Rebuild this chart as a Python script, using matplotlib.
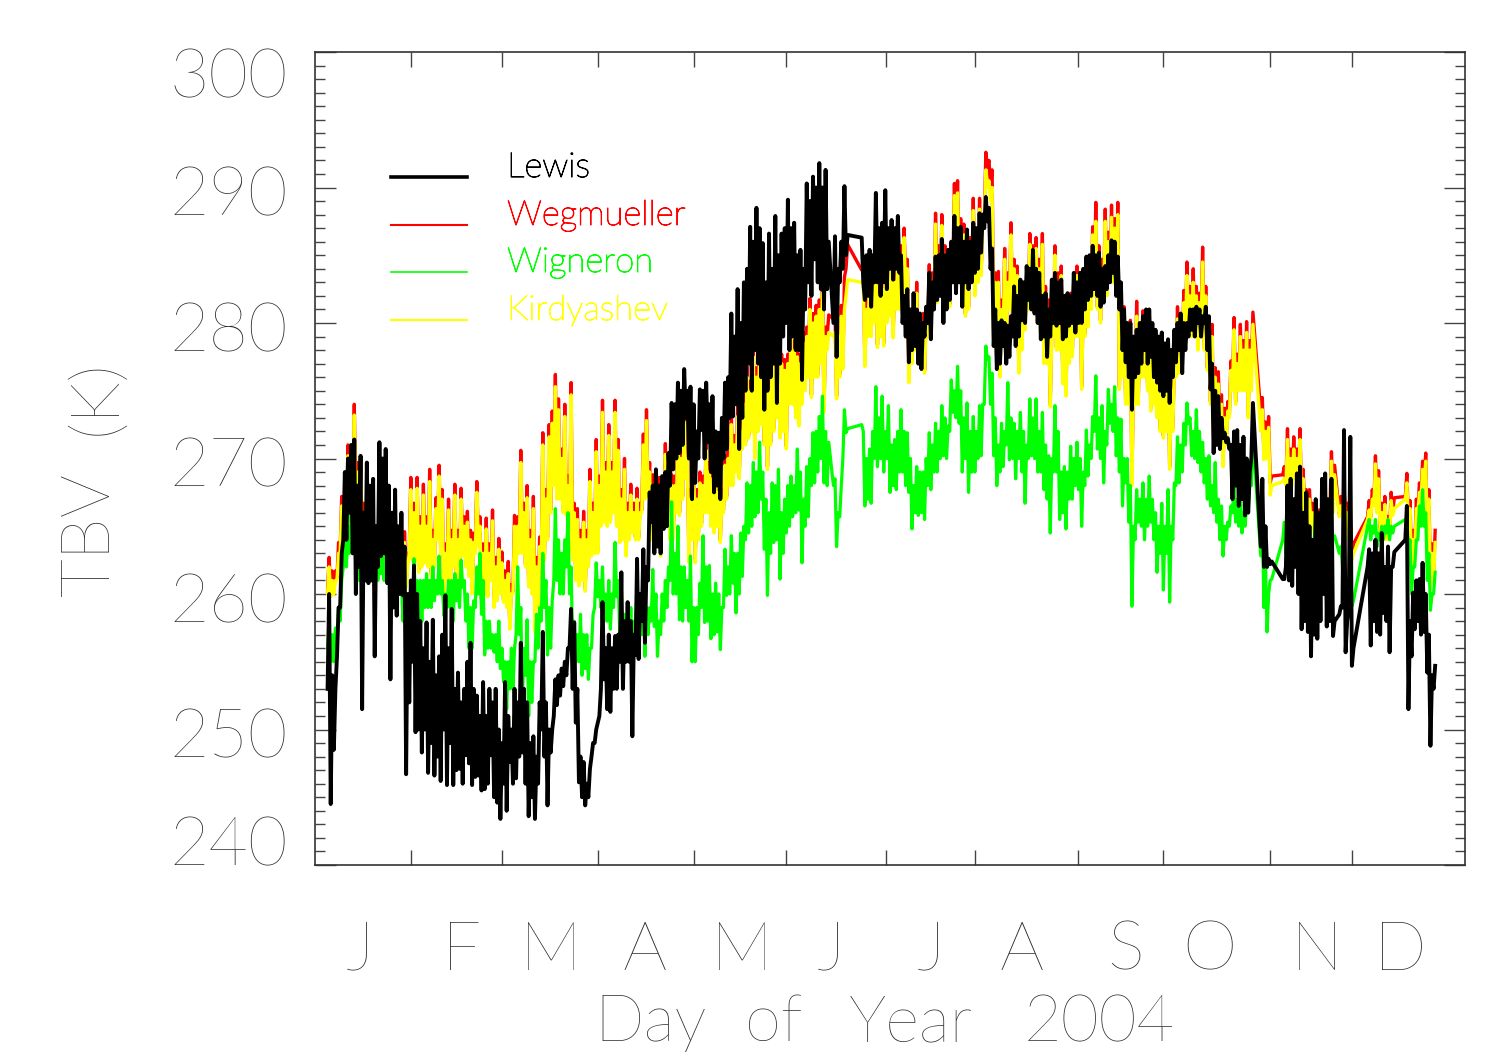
import numpy as np
import matplotlib.pyplot as plt
import matplotlib.patheffects as pe
from matplotlib.ticker import MultipleLocator
from matplotlib.transforms import blended_transform_factory, offset_copy

# day of year of each overpass pair (gaps where no data)
days = np.r_[5:165, 166:171, 175:300, 302:306, 309:326, 327:332, 336:345, 348:358]

# two samples a day: night pass at the day, day pass half a day later
lewis_night = [
    253, 244.5, 248.5, 255.4, 259, 264, 264, 266, 263, 260,
    262, 251.5, 261, 260.8, 261, 255.4, 262, 262.8, 263, 260.8,
    253.7, 259, 258.4, 260, 259.9, 246.7, 252, 255, 249.8, 250,
    248.3, 250, 246.8, 249, 246.6, 248, 246.2, 250, 245.9, 249,
    245.9, 247, 247.1, 246, 248.1, 247.5, 245.9, 246.5, 246.6, 245.5,
    245.6, 246, 248.1, 245, 244.6, 243.4, 246, 244, 247.6, 246,
    246.4, 248, 248.3, 246, 243.6, 245, 243.4, 246, 250, 248,
    244.4, 248.3, 251, 251.8, 252.5, 253.2, 254, 256, 253, 250.5,
    246.1, 245, 244.4, 245, 248, 249, 250.5, 253, 253.7, 251.5,
    251.3, 253, 253, 255, 253, 255, 255, 249.5, 255.5, 255.2,
    258, 256.4, 261, 265.3, 263, 263.5, 263, 264.8, 265, 268,
    269.2, 270, 270.4, 271, 273, 270, 267, 268.2, 270, 272.1,
    270, 271.2, 269, 267.5, 268, 267, 270, 270.7, 273, 273.1,
    274, 270.7, 273, 275, 277, 275, 278, 277, 276, 273.6,
    275, 276, 277, 274.1, 277, 279, 280, 278, 279, 278,
    278, 275.8, 281, 283, 282, 284.7, 283, 282.5, 281, 282.5,
    280, 277.5, 283, 284, 285, 286.3, 281.7, 282, 281.2, 283,
    283, 282, 283, 282.5, 284, 283.2, 284, 283.7, 280, 279,
    277.1, 278, 278.3, 277, 276.6, 279, 280, 278.8, 281, 281.7,
    282, 280, 281, 281.7, 283, 282.2, 283, 281.2, 283, 282.5,
    283, 283.7, 284, 285.2, 287, 287.5, 284, 278.3, 276.6, 277,
    278.3, 277, 277.5, 279, 278.3, 279, 280.2, 280, 281.7, 281,
    280.7, 280, 278.8, 279, 277.5, 279, 280, 279.8, 280, 278.8,
    279, 279.8, 280, 279.3, 280, 280, 281, 281.7, 282, 282.5,
    282, 281.2, 281.5, 282.5, 283, 283.7, 282, 281, 278, 277.1,
    276, 273.6, 276, 276.3, 277, 278, 277, 277.5, 276, 275.6,
    275, 274.6, 275, 274.1, 276, 277.1, 278, 276.3, 278, 279,
    279.5, 279, 280, 279, 280, 278, 275.1, 270.4, 271, 270.7,
    271.5, 271.2, 270.7, 267, 268, 266.5, 267, 265.8, 266, 270,
    263.5, 262, 262, 262.2, 261.1, 262, 261, 260.6, 262, 260,
    257.4, 258, 257.2, 255.4, 257, 256.7, 258, 260, 257.6, 258,
    256.9, 258.5, 259, 255.7, 259, 254.7, 262, 256.2, 258, 257.2,
    257, 258.6, 258, 255.7, 262, 264, 251.5, 255.4, 257.4, 258,
    257, 257.2, 254.2, 248.8, 253,
]
lewis_day = [
    260, 254, 253, 259, 263, 269, 270, 271, 271.4, 268,
    270.2, 266, 269.7, 268, 268.5, 265, 271.2, 270, 270.7, 268,
    266, 267.7, 265, 266, 263.5, 260, 261, 262.1, 260, 258,
    256, 257.9, 255, 258.1, 254, 255.4, 257, 259.9, 256, 258.9,
    253, 254.2, 252, 253, 255, 256.4, 253, 252.5, 251, 253.5,
    251, 253, 252, 253, 250, 249, 253.5, 251, 250, 253,
    252, 256.4, 253, 252, 249, 249.5, 248, 252, 257.2, 252,
    250, 250, 253.7, 254, 254.5, 255, 256, 258.9, 257.9, 253,
    248, 247.6, 246, 247.1, 249, 250, 251, 259.4, 256, 257,
    256, 256.9, 257, 261.6, 258, 259.4, 258, 257, 262.6, 260,
    263.3, 262, 267.5, 268, 269.2, 268, 268.7, 269, 270.4, 274.1,
    274, 275.6, 275, 276.6, 275, 275.3, 274, 272, 275.1, 275,
    275.6, 274, 274.6, 272, 271.9, 273, 275.6, 276, 280.7, 279,
    282.5, 280, 283, 284, 287.1, 286, 288.5, 287, 285.9, 283,
    286.6, 284, 287.9, 285, 286.6, 287, 289.1, 287, 287.4, 285,
    285.4, 284, 290.3, 289, 290.8, 290, 291.8, 290, 291.3, 286,
    286.4, 284, 286, 290.1, 286.5, 283, 285, 285.4, 285, 289.6,
    287, 287.4, 289.8, 287, 287.6, 287, 287.9, 285, 282, 282.5,
    281, 282.2, 281, 280.7, 280, 281.2, 283.7, 283, 284.9, 285,
    286.2, 285, 285.4, 286, 287.9, 287, 287.1, 286, 286.9, 286,
    287.4, 287, 288.1, 288, 289.3, 288.5, 285.5, 281, 280, 280.2,
    280, 279.8, 280.5, 282.7, 282, 283.2, 283, 284.2, 284, 285.4,
    284, 283.7, 282, 282.2, 281, 283.2, 283.7, 283, 283.2, 282,
    282.2, 282, 283.7, 283, 283.7, 284, 284.9, 285, 285.7, 285,
    285.2, 284, 284.2, 285, 286.1, 286, 284.9, 283, 281, 280,
    280, 279, 279.5, 280, 280.5, 281, 281, 280, 279.5, 279,
    279.3, 278.5, 278.8, 278, 279.5, 280, 280.7, 280, 280, 281,
    281, 281.2, 281, 280.5, 281.2, 280.5, 277, 275, 274.6, 273,
    271.9, 271.5, 271, 272, 272.1, 271, 271.6, 270, 269, 274.1,
    268.5, 265, 262.6, 262.4, 261.1, 268, 268.5, 267, 268.9, 269.4,
    266, 267.5, 265, 264, 267, 266, 268.5, 268.9, 267, 268.5,
    258, 259.1, 272.1, 258, 271.6, 256, 263.3, 263, 264, 263,
    264.5, 262, 263.5, 262, 263.1, 266.5, 258, 260.1, 261, 261.1,
    262.3, 260, 257, 254, 254.7,
]

wegmueller_night = [
    260.2, 260, 260.2, 261.2, 263.2, 264.7, 265.2, 268.2, 266.2, 266.2,
    264.2, 263.2, 262.7, 262.2, 262.2, 261.7, 262.2, 262.2, 262.7, 262.7,
    261.2, 261.2, 261.2, 260.7, 260.7, 260.7, 263.2, 262.7, 262.7, 261.8,
    262.2, 262.5, 262.2, 261.5, 262.2, 264.2, 263.2, 259.3, 261.2, 260.5,
    262.2, 261, 261.2, 263, 262.2, 261.5, 260.2, 263.2, 263.7, 259.6,
    260.2, 260, 261.2, 259.2, 259.7, 260.2, 259.6, 259.2, 257.6, 260.2,
    262.2, 263.2, 263.2, 262.2, 260.7, 260.2, 257.4, 259.2, 262.2, 262.7,
    264.2, 266.2, 268.2, 267.2, 267.2, 266.2, 266, 263.2, 262.7, 261.2,
    260.8, 261.2, 260.4, 262.2, 263, 263.2, 263.2, 265.2, 265.5, 265.2,
    265.5, 266.2, 265.2, 264, 264.2, 263, 264.2, 264.7, 264.2, 264.2,
    266.2, 267.2, 267.4, 264.2, 263.7, 264.2, 263, 265.2, 266.7, 264.2,
    264.2, 266.2, 266, 267.2, 268.7, 262.5, 264.2, 262.5, 264.2, 265.2,
    266.2, 266.2, 265.2, 264.7, 265.2, 264, 266.2, 267.2, 268.2, 268.2,
    269.2, 268.7, 270.9, 271.2, 271.7, 272.2, 270.2, 272.2, 272.7, 271.2,
    269.4, 271.2, 272.2, 273.2, 271.7, 272.2, 270.9, 274.2, 274.2, 273.2,
    272.6, 274.2, 275.2, 276.2, 274.7, 276.2, 276.2, 277.2, 273.6, 279,
    280.3, 274.6, 276.2, 276.8, 284, 283.9, 277, 279.2, 279.2, 280.2,
    278.4, 279.2, 278.5, 280.2, 280.7, 279.1, 281.2, 281.2, 282.2, 282.2,
    275.8, 277.2, 278.2, 277.2, 277.2, 276.5, 279.2, 279.5, 281.2, 281.7,
    282.2, 282.2, 281.7, 281.4, 284.2, 285.2, 283.2, 282.2, 280.7, 281.2,
    283.2, 282.2, 283.2, 283.7, 287.2, 291.5, 290, 278.6, 279.2, 276.2,
    279.2, 279.2, 281.2, 280.2, 279.2, 276.5, 278.2, 279.7, 281.2, 281.2,
    281.2, 280.2, 281.2, 277.2, 277.2, 274, 279.2, 278.2, 278.2, 275.7,
    274.8, 277.2, 277.7, 279.2, 279.2, 275.3, 279.2, 279.9, 281.2, 282.2,
    281.2, 280.2, 282.2, 282.2, 283.2, 283.2, 283.2, 275.3, 276.2, 274.2,
    274.2, 268.2, 274.2, 274.2, 276.2, 276.2, 275.2, 273.7, 274.2, 273.2,
    272.2, 271.7, 272.2, 269.4, 272.2, 276.2, 276.5, 277.2, 279.2, 280.2,
    279.2, 279.2, 278.2, 280.2, 278.2, 276.7, 274.2, 271.2, 272.2, 272.2,
    269.6, 271.2, 273.2, 275.2, 274.2, 275.2, 275.2, 275.2, 273.2, 276.6,
    273.4, 270.3, 270.2, 268.2, 268.8, 268.2, 267.5, 268.2, 268.7, 268.2,
    266.2, 265.7, 265.2, 265.2, 264.7, 264.7, 264.2, 264.2, 264.7, 266.2,
    266.2, 265.9, 266.2, 265.7, 264.2, 262.8, 265.7, 265.7, 266.7, 266.2,
    264.7, 264.7, 264.2, 264.7, 266, 267.2, 265.2, 261.8, 263.2, 266.2,
    267.2, 268.2, 264.2, 260.7, 261.2,
]
wegmueller_day = [
    262.7, 261.7, 261.7, 263.8, 267.2, 267.7, 271, 269.7, 274, 269.7,
    269.3, 266.7, 267.1, 265.7, 265.7, 264.7, 265.2, 264.7, 266.4, 264.7,
    264.7, 263.7, 264.2, 263.7, 264.6, 262.7, 268.6, 266.7, 268.6, 265.7,
    268.1, 265.7, 269.2, 264.7, 267.1, 269.5, 267.7, 263.7, 267, 264.7,
    268.1, 264.7, 267.8, 265.7, 266.1, 264.7, 264.5, 268.3, 265.7, 263.7,
    265.6, 263.7, 266.2, 262.7, 264.1, 263.1, 261.7, 262.4, 260.7, 265.8,
    265.7, 270.6, 266.7, 268, 264.7, 267.2, 262.7, 264.2, 271.9, 267.7,
    272.5, 273.5, 276.2, 274.4, 270.7, 274, 268.7, 275.6, 266.7, 266.3,
    264.7, 266.1, 264.7, 269.2, 266.7, 271.4, 268.7, 274.3, 269.7, 272.5,
    269.7, 274.3, 271.4, 267.7, 270, 266.7, 268.1, 266.7, 267.8, 266.7,
    271.8, 273.6, 269.7, 268.8, 267.7, 268.6, 267.7, 271.1, 269.7, 268.8,
    268.7, 273.4, 270.7, 273.5, 270.7, 267.7, 271.7, 267.7, 269, 268.7,
    271.4, 269.7, 269.4, 268.7, 268.3, 267.7, 270.2, 270.7, 273.3, 271.7,
    273.9, 272.7, 274.7, 276.8, 275.7, 278.3, 276.7, 278.8, 276.7, 276.8,
    275.7, 278.3, 277.7, 280.1, 277.7, 277.3, 277.7, 279.9, 278.7, 278.3,
    277.7, 279.3, 279.7, 281.8, 280.7, 281.3, 281.7, 283, 279.7, 280.6,
    280.8, 279.7, 281.3, 283.4, 285.8, 284.2, 281.7, 284.3, 283.7, 285.7,
    282.7, 283.3, 283.7, 285.3, 284.7, 283.7, 286.3, 285.7, 287, 284.7,
    280.7, 281.2, 283, 280.7, 280.7, 280.7, 284.3, 283.7, 288.1, 285.7,
    288, 285.7, 284.7, 285.7, 290.3, 290.5, 287.7, 287.3, 285.7, 286.3,
    289.2, 286.7, 289.2, 287.7, 292.6, 292, 291.3, 283.7, 283.8, 281.7,
    285.5, 283.7, 287.4, 284.7, 284.2, 281.7, 282.7, 283.7, 286.6, 285.7,
    286.3, 284.7, 286.6, 282.7, 281.7, 279.7, 285.7, 283.7, 284.2, 281.7,
    280.7, 282.2, 281.7, 284.2, 283.7, 281.7, 283.8, 284.7, 287.1, 288.9,
    285.7, 284.7, 288.4, 286.7, 288.7, 287.7, 288.9, 281.7, 281.2, 279.7,
    280.2, 276.7, 281.6, 279.7, 280.9, 279.7, 280.5, 278.7, 279.2, 277.7,
    276.7, 275.7, 278.2, 275.7, 277.2, 281.2, 280.7, 282.4, 284.5, 282.7,
    284, 282.7, 282.2, 285.6, 282.7, 279.7, 279.9, 276.7, 276.4, 274.7,
    273.7, 274.2, 277.2, 280.4, 277.7, 279.9, 278.7, 280.1, 278.7, 280.8,
    274.5, 272.7, 273.1, 268.7, 269.4, 272.2, 270.7, 271.6, 270.7, 272.2,
    269.2, 267.7, 267.7, 266.7, 266.7, 266.2, 266.2, 266.7, 266.7, 270.5,
    269.5, 267.2, 267.9, 266.7, 265.7, 263.7, 266.9, 267.7, 270.2, 269.1,
    266.7, 267.2, 265.7, 267.5, 267.1, 268.9, 266.9, 264.7, 267, 268.2,
    269.8, 270.4, 267.7, 263.7, 264.7,
]

wigneron_night = [
    256, 255, 255, 256, 258, 262, 262, 263, 263.5, 262,
    261, 262.5, 261, 261, 262, 262, 261, 261.5, 261, 262,
    260, 261, 259, 260, 258, 258, 257, 258, 259.5, 258,
    258, 259, 259, 259, 259.5, 260, 260, 258.4, 259, 259,
    258, 259.5, 259, 260.5, 258, 256, 256, 259, 260, 258.5,
    255.5, 256, 256, 255.7, 255, 254.5, 253.5, 251.5, 253, 253,
    257, 257, 252, 254, 251, 252, 255, 256, 258, 259,
    255.5, 256, 261, 261, 260, 260, 262, 260, 256, 255,
    255, 254, 254.5, 253.7, 256, 259, 259.8, 259, 258, 258,
    257.4, 259, 259.8, 257, 256, 255, 256, 256, 257, 256,
    257, 255.4, 257, 258, 257.6, 255.4, 257, 258, 259, 261,
    260, 260, 258.1, 258, 259, 258, 255, 255, 257, 259,
    257.9, 258, 256.7, 257, 257.2, 255.9, 259, 259.9, 260, 260.8,
    258.6, 260, 261.3, 264, 264.5, 265, 265.7, 266, 267, 263.3,
    259.9, 263, 263.8, 264, 261.1, 263, 264.5, 265, 265.7, 266,
    266.2, 262.3, 265, 265.7, 268, 268.2, 269, 270, 268.2, 268,
    268, 263.5, 265.7, 270, 271.9, 272.5, 266.5, 267, 266.7, 270,
    269.4, 270, 269, 270, 267.5, 268, 267.7, 269, 269, 268,
    267.5, 264.8, 266, 265.8, 266, 265.5, 268, 267.7, 269, 269,
    270, 270.2, 270, 272, 273.4, 273, 272.6, 269, 270, 267.5,
    269, 269, 270, 270.2, 274, 277.3, 274, 270.2, 268, 269,
    269.4, 271, 269.9, 270, 268.5, 270, 269, 266.7, 270, 270.2,
    270, 269, 269, 267.7, 267, 264.5, 269, 269, 265.5, 266,
    264.8, 267, 267, 268, 267.7, 265, 268, 268.7, 270, 272,
    270.7, 270, 268.2, 271, 272.6, 272, 270.2, 269, 266.5, 268.2,
    265.3, 259.1, 264, 265.3, 265, 264, 265, 265.3, 264, 261.6,
    263, 260.3, 263, 259.4, 264, 268, 268.2, 269, 271, 272.6,
    270.2, 270, 269.7, 269, 268.2, 267, 266.5, 266, 265.3, 264,
    262.8, 264, 265, 266, 265.3, 265, 264.5, 265, 266, 268,
    262.8, 259, 257.2, 261, 264, 263, 264, 264, 264, 263.5,
    262.3, 263, 262.5, 262, 264, 263.5, 263, 264.5, 263.5, 263,
    264, 263, 262, 260.5, 259.5, 259.1, 265, 264, 264.5, 263.5,
    264, 264, 264.5, 264, 264.5, 265.5, 263, 260, 262, 264,
    265, 265, 261, 258.8, 260,
]
wigneron_day = [
    258, 257, 257.5, 259, 261, 265, 265, 266, 265, 265,
    264, 264, 264.5, 264, 265, 264, 264, 263, 264, 263,
    263, 262, 262, 261, 260.5, 259, 261, 262.6, 261, 261,
    261, 261.5, 261, 262, 261, 262.8, 261, 260, 261, 261,
    261.5, 261, 262.5, 261, 260, 259, 259.5, 262, 263, 261,
    258, 258, 257, 257, 258, 256, 255, 255, 256, 256,
    262, 259, 256, 258.1, 255, 255, 258.5, 259, 263, 261,
    259, 259.5, 266.3, 264, 263, 264, 266, 262, 258, 257,
    258.5, 257, 257, 256, 258.5, 262.3, 261, 262, 260, 261,
    260, 263.8, 261, 259, 258.5, 258, 259, 258, 260.5, 259,
    261.3, 259, 259, 261.8, 260, 258, 260, 261, 262, 266.8,
    263, 265, 262, 262, 261, 262.8, 259, 259, 260.8, 264.3,
    262, 262.1, 260, 260.8, 260, 259, 263.3, 262, 264.3, 263,
    263, 264.5, 265, 268.2, 268, 269.7, 269, 271.2, 269, 267,
    266, 268.2, 268, 269.2, 266, 267, 268, 268.7, 268, 270.7,
    269, 267, 269.4, 270, 271.9, 272, 273.1, 274.6, 272, 271.2,
    268.5, 266, 268, 273.6, 272.2, 272, 270, 270.7, 272, 275.3,
    273, 274.6, 272, 273.9, 271, 271.4, 272, 273.6, 272, 271.9,
    270, 268, 269.4, 269, 269, 270, 271.9, 271, 272.6, 272,
    273.9, 273, 272.4, 275.8, 275, 276.8, 275, 273, 274.1, 272,
    273.1, 272, 273.9, 274, 278.3, 277.5, 276.3, 273, 271, 272.6,
    272, 275.6, 273, 272.6, 272, 273.4, 272, 271, 274.4, 273,
    274.4, 272, 273.4, 271, 270.2, 270, 273.9, 272, 269, 269.4,
    269, 270.9, 270, 271.2, 270, 269, 272.1, 271, 273.1, 276.1,
    273, 273.9, 272, 275.1, 274, 275.3, 273, 272.9, 270, 270,
    268, 265, 267.7, 267, 268.2, 267, 268.7, 267, 266, 265,
    266.7, 265, 267.7, 265, 268.2, 271.6, 271, 272.6, 274.1, 273,
    272, 273.6, 272, 271.2, 270, 270.2, 268, 269.7, 267, 266.5,
    265, 265.3, 266.5, 268.2, 267, 267.7, 266, 266.5, 268.2, 271.6,
    266, 262.5, 260, 261.1, 265.3, 266, 267.5, 266, 267.7, 265,
    264, 265, 264, 264, 266, 265, 265.5, 266, 265, 264.3,
    264.3, 263.5, 262.5, 261, 260, 259.5, 265.5, 265, 265.5, 264.5,
    265, 265, 265.5, 265, 265, 265.5, 264, 262, 264, 266.5,
    267.7, 266, 263, 260, 261.6,
]

kirdyashev_night = [
    260, 259.8, 260, 261, 263, 264.5, 265, 268, 266, 266,
    264, 263, 262.5, 262, 262, 261.5, 262, 262, 262.5, 262.5,
    261, 261, 261, 260.5, 260.5, 260.5, 263, 262.5, 262.5, 261.6,
    262, 262.3, 262, 261.3, 262, 264, 263, 259.1, 261, 260.3,
    262, 260.8, 261, 262.8, 262, 261.3, 260, 263, 263.5, 259.4,
    260, 259.8, 261, 259, 259.5, 260, 259.4, 259, 257.4, 260,
    262, 263, 263, 262, 260.5, 260, 257.2, 259, 262, 262.5,
    264, 266, 268, 267, 267, 266, 265.8, 263, 262.5, 261,
    260.6, 261, 260.2, 262, 262.8, 263, 263, 265, 265.3, 265,
    265.3, 266, 265, 263.8, 264, 262.8, 264, 264.5, 264, 264,
    266, 267, 267.2, 264, 263.5, 264, 262.8, 265, 266.5, 264,
    264, 266, 265.8, 267, 268.5, 262.3, 264, 262.3, 264, 265,
    266, 266, 265, 264.5, 265, 263.8, 266, 267, 268, 268,
    269, 268.5, 270.7, 271, 271.5, 272, 270, 272, 272.5, 271,
    269.2, 271, 272, 273, 271.5, 272, 270.7, 274, 274, 273,
    272.4, 274, 275, 276, 274.5, 276, 276, 277, 273.4, 278,
    279, 274.4, 276, 276.6, 282, 283, 276.8, 279, 279, 280,
    278.2, 279, 278.3, 280, 280.5, 278.9, 281, 281, 282, 282,
    275.6, 277, 278, 277, 277, 276.3, 279, 279.3, 281, 281.5,
    282, 282, 281.5, 281.2, 284, 285, 283, 282, 280.5, 281,
    283, 282, 283, 283.5, 287, 290, 289, 278.3, 279, 276,
    279, 279, 281, 280, 279, 276.3, 278, 279.5, 281, 281,
    281, 280, 281, 277, 277, 273.8, 279, 278, 278, 275.5,
    274.6, 277, 277.5, 279, 279, 275.1, 279, 279.7, 281, 282,
    281, 280, 282, 282, 283, 283, 283, 275.1, 276, 274,
    274, 268, 274, 274, 276, 276, 275, 273.5, 274, 273,
    272, 271.5, 272, 269.2, 272, 276, 276.3, 277, 279, 280,
    279, 279, 278, 280, 278, 276.5, 274, 271, 272, 272,
    269.4, 271, 273, 275, 274, 275, 275, 275, 273, 275,
    272, 269.9, 270, 267.3, 268.3, 268, 267.3, 268, 268.5, 268,
    266, 265.5, 265, 265, 264.5, 264.5, 264, 264, 264.5, 266,
    266, 265.7, 266, 265.5, 264, 262.5, 265.5, 265.5, 266.5, 266,
    264.5, 264.5, 264, 264.5, 265.8, 267, 265, 261.5, 263, 266,
    267, 268, 264, 260.4, 261,
]
kirdyashev_day = [
    262, 261, 261, 263, 266.5, 267, 270.2, 269, 273.2, 269,
    268.5, 266, 266.3, 265, 265, 264, 264.5, 264, 265.5, 264,
    264, 263, 263.5, 263, 263.8, 262, 267.7, 266, 267.8, 265,
    267.3, 265, 268.3, 264, 266.3, 268.7, 267, 263, 266.2, 264,
    267.3, 264, 267, 265, 265.3, 264, 263.8, 267.5, 265, 263,
    264.8, 263, 265.4, 262, 263.3, 262.3, 261, 261.5, 260, 265,
    265, 269.7, 266, 267.1, 264, 266.3, 262, 263.5, 271, 267,
    271.6, 272.6, 275.3, 273.6, 270, 273.1, 268, 274.7, 266, 265.5,
    264, 265.3, 264, 268.3, 266, 270.5, 268, 273.4, 269, 271.7,
    269, 273.4, 270.6, 267, 269.2, 266, 267.3, 266, 267, 266,
    271, 272.8, 269, 268, 267, 267.8, 267, 270.3, 269, 268,
    268, 272.5, 270, 272.7, 270, 267, 270.9, 267, 268.2, 268,
    270.6, 269, 268.5, 268, 267.5, 267, 269.5, 270, 272.5, 271,
    273.1, 272, 274, 276, 275, 277.5, 276, 278, 276, 276,
    275, 277.5, 277, 279.3, 277, 276.5, 277, 279, 278, 277.5,
    277, 278.5, 279, 281, 280, 280.5, 281, 282.2, 279, 279.3,
    279.3, 279, 280.5, 281, 283.2, 283, 281, 283.5, 283, 284.9,
    282, 282.5, 283, 284.5, 284, 283, 285.5, 285, 286.3, 284,
    280, 280.5, 282.2, 280, 280, 280, 283.5, 283, 287.3, 285,
    287.2, 285, 284, 285, 289.4, 289.6, 287, 286.5, 285, 285.5,
    288.3, 286, 288.4, 287, 291.3, 290.5, 290, 283, 283, 281,
    284.7, 283, 286.5, 284, 283.5, 281, 282, 283, 285.8, 285,
    285.5, 284, 285.8, 282, 281, 279, 285, 283, 283.5, 281,
    280, 281.5, 281, 283.5, 283, 281, 283, 284, 286.5, 287.5,
    285, 284, 287.5, 286, 287.8, 287, 288, 281, 280.5, 279,
    279.5, 276, 280.5, 279, 280, 279, 279.8, 278, 278.5, 277,
    276, 275, 277.5, 275, 276.5, 280.3, 280, 281.5, 283.5, 282,
    283, 282, 281.5, 284.5, 282, 279, 279, 276, 275.5, 274,
    273, 273.5, 276.5, 279.5, 277, 279, 278, 279.3, 278, 279.9,
    273.6, 272, 272.3, 268, 268.5, 271.4, 270, 270.7, 270, 271.4,
    268.5, 267, 267, 266, 266, 265.5, 265.5, 266, 266, 269.8,
    268.8, 266.5, 267.2, 266, 265, 263, 266.2, 267, 269.6, 268.5,
    266, 266.6, 265, 266.9, 266.3, 268.2, 266.3, 264, 266.3, 267.5,
    269.2, 269.8, 267, 263, 263.8,
]

month_edges = [31.55, 60.5, 91.1, 121.6, 150.9, 182.7, 211.1, 243.8, 270.9, 305, 331]
month_centres = [15.3, 47.8, 76, 106, 136.9, 165.2, 197.2, 226, 259, 285.8, 319.8, 346.3]
month_names = ['J', 'F', 'M', 'A', 'M', 'J', 'J', 'A', 'S', 'O', 'N', 'D']
y_ticks = [240, 250, 260, 270, 280, 290, 300]

names = ['Lewis', 'Wegmueller', 'Wigneron', 'Kirdyashev']
colours = ['#000000', '#ff0000', '#00ff00', '#ffff00']


def merge(night, day):
    t = np.concatenate([days, days + 0.5])
    v = np.concatenate([night, day])
    order = np.argsort(t, kind='stable')
    return t[order], v[order]


plt.rcParams['font.family'] = ['Lato', 'DejaVu Sans']
plt.rcParams['font.weight'] = 'light'
txt = '#2a2a2a'

fig = plt.figure(figsize=(15.01, 10.52), dpi=100)
ax = fig.add_axes([315 / 1501, 1 - 865 / 1052, 1150 / 1501, 813 / 1052])

# red sits under yellow, green over them, black on top
ax.plot(*merge(wegmueller_night, wegmueller_day), color=colours[1], lw=2.4)
ax.plot(*merge(kirdyashev_night, kirdyashev_day), color=colours[3], lw=2.4)
ax.plot(*merge(wigneron_night, wigneron_day), color=colours[2], lw=2.3)
ax.plot(*merge(lewis_night, lewis_day), color=colours[0], lw=2.8)

ax.set_xlim(1, 367)
ax.set_ylim(240, 300)

ax.set_yticks(y_ticks)
ax.set_yticklabels([])
ax.yaxis.set_minor_locator(MultipleLocator(1))
ax.tick_params(axis='y', which='major', direction='in', length=15, width=1,
               left=True, right=True, color='#444444')
ax.tick_params(axis='y', which='minor', direction='in', length=7.5, width=1,
               left=True, right=True, color='#444444')

# y labels by hand: end labels are pulled inside the axis range as in the original
ytrans = blended_transform_factory(ax.transAxes, ax.transData)
for v in y_ticks:
    drop = 45 if v == 300 else (0 if v == 240 else 28)
    tr = offset_copy(ytrans, fig=fig, x=0, y=-drop, units='dots')
    ax.text(-0.0235, v, str(v), transform=tr, ha='right', va='baseline',
            fontsize=49, color=txt)

ax.set_xticks(month_edges)
ax.set_xticklabels([])
ax.set_xticks(month_centres, minor=True)
ax.set_xticklabels(month_names, minor=True)
ax.tick_params(axis='x', which='major', direction='in', length=11, width=1,
               top=True, bottom=True, color='#444444')
ax.tick_params(axis='x', which='minor', length=0, labelsize=50, labelcolor=txt, pad=40)

for s in ax.spines.values():
    s.set_color('#333333')
    s.set_linewidth(1.2)

# axis titles, word by word to match the wide spacing of the original font
for word, xc in zip(['Day', 'of', 'Year', '2004'], [651, 774, 911, 1099]):
    fig.text(xc / 1501, 1 - 1041 / 1052, word, fontsize=47, color=txt,
             ha='center', va='baseline')
fig.text(91 / 1501, 1 - 535 / 1052, 'TBV', fontsize=49, color=txt,
         ha='center', va='center', rotation=90)
fig.text(97 / 1501, 1 - 397 / 1052, '(K)', fontsize=49, color=txt,
         ha='center', va='center', rotation=90)

# legend drawn by hand like the original
leg_y = [0.8462, 0.7872, 0.7294, 0.6704]
leg_lw = [2.6, 1.5, 1.2, 1.5]
for name, c, y, lw in zip(names, colours, leg_y, leg_lw):
    ax.plot([0.0661, 0.1322], [y, y], color=c, lw=lw, transform=ax.transAxes)
    t = ax.text(0.167, y, name, color=c, fontsize=25, va='baseline', ha='left',
                transform=ax.transAxes)
    t.set_path_effects([pe.withStroke(linewidth=0.7, foreground=c)])

fig.savefig('out.png', dpi=100, facecolor='white')
